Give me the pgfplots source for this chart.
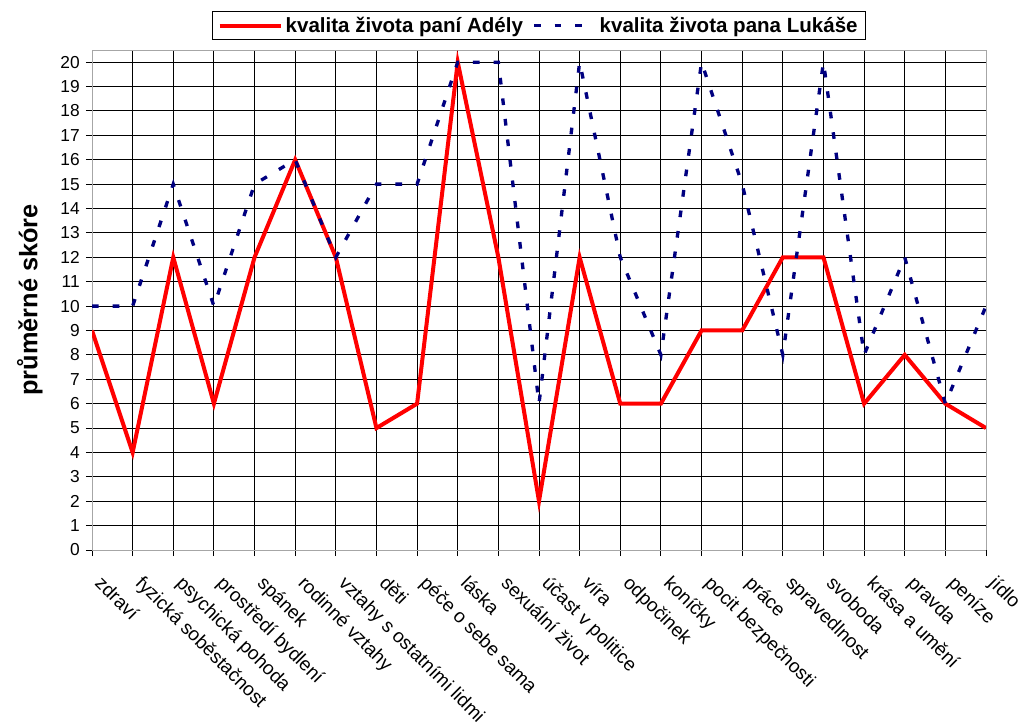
\documentclass[border=0pt]{standalone}
\usepackage{fontspec}
\setmainfont{Liberation Sans}
\usepackage{pgfplots}
\usepackage{pgfplotstable}
\pgfplotsset{compat=1.18}
\definecolor{navyb}{RGB}{0,0,128}
\definecolor{redl}{RGB}{255,0,0}

\pgfplotstableread{
x A L
0 9 10
1 4 10
2 12 15
3 6 10
4 12 15
5 16 16
6 12 12
7 5 15
8 6 15
9 20 20
10 12 20
11 2 6
12 12 20
13 6 12
14 6 8
15 9 20
16 9 15
17 12 8
18 12 20
19 6 8
20 8 12
21 6 6
22 5 10
}\data

\begin{document}
\begin{tikzpicture}
\fill[white] (-69pt,-132pt) rectangle (698.25pt,412.5pt);
\begin{axis}[
  at={(0,0)}, anchor=south west,
  scale only axis, width=670.5pt, height=375pt,
  xmin=0, xmax=22, ymin=0, ymax=20.5,
  xtick={0,...,21},
  xticklabels={zdraví,fyzická soběstačnost,psychická pohoda,prostředí bydlení,spánek,rodinné vztahy,vztahy s ostatními lidmi,děti,péče o sebe sama,láska,sexuální život,účast v politice,víra,odpočinek,koníčky,pocit bezpečnosti,práce,spravedlnost,svoboda,krása a umění,pravda,peníze},
  extra x ticks={22}, extra x tick labels={jídlo},
  extra x tick style={grid=none},
  ytick={0,...,20},
  grid=major,
  major grid style={black, line width=0.75pt},
  axis line style={draw=gray!70, line width=0.75pt},
  tick align=outside, xtick pos=left, ytick pos=left,
  major tick length=4.5pt,
  tick style={black, line width=0.75pt},
  /pgf/number format/assume math mode=true,
  xticklabel style={xshift=9pt, rotate=-45, anchor=north west, inner sep=0pt, font=\fontsize{14.3}{16}\selectfont},
  xticklabel shift=13.5pt,
  yticklabel style={anchor=east, inner sep=0pt, font=\fontsize{13}{15}\selectfont},
  yticklabel shift=4.5pt,
  ylabel={průměrné skóre},
  every axis y label/.style={at={(axis description cs:-0.0694,0.5)}, rotate=90, anchor=center, font=\fontsize{19}{22}\selectfont\bfseries},
  legend columns=2,
  legend style={at={(0.5,1)}, anchor=south, yshift=7.5pt, draw=black, line width=0.75pt,
    font=\fontsize{15.4}{18}\selectfont\bfseries, inner xsep=4pt, inner ysep=2pt,
    /tikz/every even column/.append style={column sep=5pt}},
  legend image code/.code={\draw[#1] (0pt,0pt) -- (46pt,0pt);},
]
\addplot[redl, line width=3pt, line join=miter] table[x=x, y=A] {\data};
\addlegendentry{kvalita života paní Adély}
\addplot[navyb, line width=2.5pt, dash pattern=on 5pt off 10.5pt] table[x=x, y=L] {\data};
\addlegendentry{kvalita života pana Lukáše}
\end{axis}
\pgfresetboundingbox
\useasboundingbox (-69pt,-132pt) rectangle (698.25pt,412.5pt);
\end{tikzpicture}
\end{document}
